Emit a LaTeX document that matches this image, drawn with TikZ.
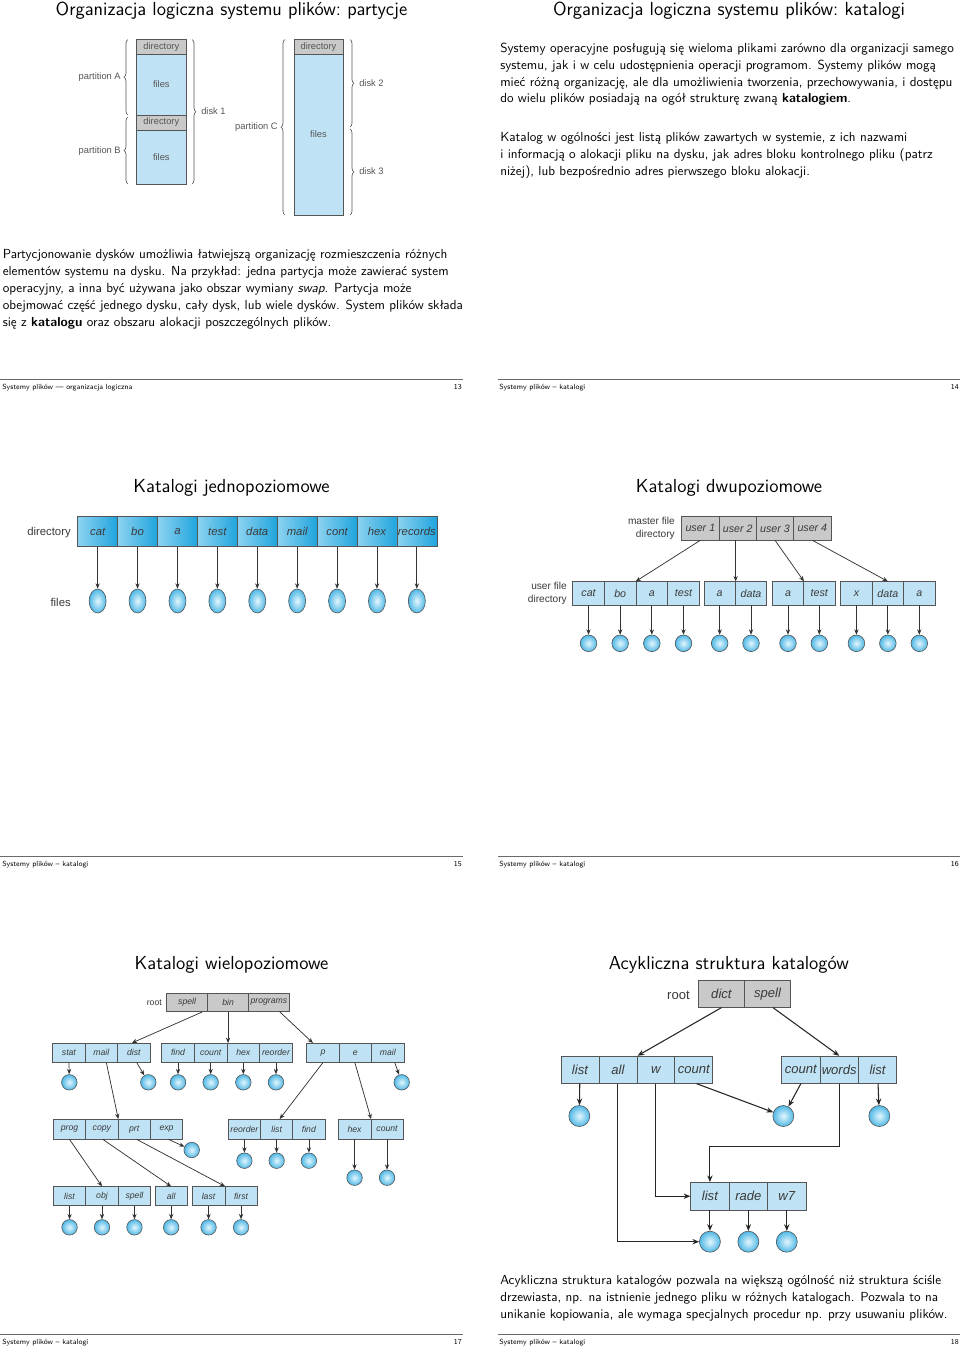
\documentclass[tikz,border=0pt]{standalone}
\usepackage{fontspec}
\newfontfamily\dfont{Liberation Sans}
\usetikzlibrary{arrows.meta,decorations.pathreplacing,calc,shapes.geometric}
\definecolor{cellblue}{HTML}{BFE3F5}
\definecolor{cellgray}{HTML}{C9C9C9}
\definecolor{edge}{HTML}{555555}
\definecolor{labgray}{HTML}{3A3A3A}
\definecolor{ballin}{HTML}{E4F6FD}
\definecolor{ballout}{HTML}{4FB8E6}
\definecolor{rulegray}{HTML}{6A6A6A}
\definecolor{gleft}{HTML}{8ED3F0}
\definecolor{gmid}{HTML}{EAF8FD}
\definecolor{gright}{HTML}{1FA4DE}
\newdimen\px \px=0.75pt
\begin{document}
\begin{tikzpicture}[x=0.75pt,y=-0.75pt,
 body/.style={anchor=base west,inner sep=0pt,font=\sffamily\fontsize{9.85}{12.75}\selectfont},
 ftitle/.style={anchor=base,inner sep=0pt,font=\sffamily\frenchspacing\fontsize{14.15}{16}\selectfont},
 foot/.style={inner sep=0pt,font=\sffamily\fontsize{5.6}{7}\selectfont},
 footrule/.style={draw=rulegray,line width=0.9pt},
 cbase/.style={draw=edge,line width=0.45pt,inner sep=0pt,text=labgray},
 cellb/.style={cbase,fill=cellblue},
 cellg/.style={cbase,fill=cellgray},
 wd/.style={minimum width=#1\px},
 ht/.style={minimum height=#1\px},
 ball/.style={circle,draw=edge,line width=0.45pt,inner color=ballin,outer color=ballout,inner sep=0pt,minimum size=#1\px},
 arr/.style={draw=black!80,line width=0.55pt,-{Stealth[length=4pt,width=3.2pt]}},
 arrb/.style={draw=black!85,line width=0.8pt,-{Stealth[length=5pt,width=4pt]}},
 brc/.style={draw=edge,line width=0.5pt,decorate,decoration={brace,amplitude=4\px}},
 s1lab/.style={inner sep=0pt,text=edge,font=\dfont\fontsize{7}{8}\selectfont},
 s3lab/.style={inner sep=0pt,text=labgray,font=\dfont\fontsize{8.5}{10}\selectfont},
 s4lab/.style={inner sep=0pt,text=labgray,align=right,font=\dfont\fontsize{7.6}{9.75}\selectfont},
 s5lab/.style={inner sep=0pt,text=labgray,font=\dfont\fontsize{6.5}{8}\selectfont},
 s6lab/.style={inner sep=0pt,text=labgray,font=\dfont\fontsize{9.8}{11}\selectfont},
 it3/.style={font=\dfont\itshape\fontsize{8.5}{10}\selectfont},
 it4/.style={font=\dfont\itshape\fontsize{8}{10}\selectfont},
 it5/.style={font=\dfont\itshape\fontsize{6.5}{8}\selectfont},
 it6/.style={font=\dfont\itshape\fontsize{9.8}{11}\selectfont}
]
\useasboundingbox (0,0) rectangle (960,1349);
\fill[white] (0,0) rectangle (960,1349);

% ================= titles =================
\node[ftitle] (ti1) at (231.5,15) {Organizacja logiczna systemu plików: partycje};
\node[ftitle] (ti2) at (729,15) {Organizacja logiczna systemu plików: katalogi};
\node[ftitle] (ti3) at (231.5,492.3) {Katalogi jednopoziomowe};
\node[ftitle] (ti4) at (729,492.3) {Katalogi dwupoziomowe};
\node[ftitle] (ti5) at (231.5,969.6) {Katalogi wielopoziomowe};
\node[ftitle] (ti6) at (729,969.6) {Acykliczna struktura katalogów};

% ================= footers =================
\foreach \r/\yy in {1/379.5,2/856.8,3/1334.1}{
  \draw[footrule] (0,\yy) -- (463,\yy);
  \draw[footrule] (498,\yy) -- (960,\yy);
}
\node[foot,anchor=base west] (fl1) at (2,389.5) {Systemy plików — organizacja logiczna};
\node[foot,anchor=base east] (fn1) at (462,389.5) {13};
\node[foot,anchor=base west] (fl2) at (499,389.5) {Systemy plików – katalogi};
\node[foot,anchor=base east] (fn2) at (959,389.5) {14};
\node[foot,anchor=base west] (fl3) at (2,866.8) {Systemy plików – katalogi};
\node[foot,anchor=base east] (fn3) at (462,866.8) {15};
\node[foot,anchor=base west] (fl4) at (499,866.8) {Systemy plików – katalogi};
\node[foot,anchor=base east] (fn4) at (959,866.8) {16};
\node[foot,anchor=base west] (fl5) at (2,1344.1) {Systemy plików – katalogi};
\node[foot,anchor=base east] (fn5) at (462,1344.1) {17};
\node[foot,anchor=base west] (fl6) at (499,1344.1) {Systemy plików – katalogi};
\node[foot,anchor=base east] (fn6) at (959,1344.1) {18};

% ================= slide 1 text =================
\node[body] (p1a) at (2.5,258.3) {Partycjonowanie dysków umożliwia łatwiejszą organizację rozmieszczenia różnych};
\node[body] (p1b) at (2.5,275.4) {elementów systemu na dysku. Na przykład: jedna partycja może zawierać system};
\node[body] (p1c) at (2.5,292.5) {operacyjny, a inna być używana jako obszar wymiany \textit{swap}. Partycja może};
\node[body] (p1d) at (2.5,309.6) {obejmować część jednego dysku, cały dysk, lub wiele dysków. System plików składa};
\node[body] (p1e) at (2.5,326.7) {się z \textbf{katalogu} oraz obszaru alokacji poszczególnych plików.};

% ================= slide 2 text =================
\node[body] (p2a) at (500,52.2) {Systemy operacyjne posługują się wieloma plikami zarówno dla organizacji samego};
\node[body] (p2b) at (500,69.1) {systemu, jak i w celu udostępnienia operacji programom. Systemy plików mogą};
\node[body] (p2c) at (500,86) {mieć różną organizację, ale dla umożliwienia tworzenia, przechowywania, i dostępu};
\node[body] (p2d) at (500,102.9) {do wielu plików posiadają na ogół strukturę zwaną \textbf{katalogiem}.};
\node[body] (p2e) at (500,141.7) {Katalog w ogólności jest listą plików zawartych w systemie, z ich nazwami};
\node[body] (p2f) at (500,158.6) {i informacją o alokacji pliku na dysku, jak adres bloku kontrolnego pliku (patrz};
\node[body] (p2g) at (500,175.5) {niżej), lub bezpośrednio adres pierwszego bloku alokacji.};

% ================= slide 6 text =================
\node[body] (p6a) at (500,1284) {Acykliczna struktura katalogów pozwala na większą ogólność niż struktura ściśle};
\node[body] (p6b) at (500,1301) {drzewiasta, np. na istnienie jednego pliku w różnych katalogach. Pozwala to na};
\node[body] (p6c) at (500,1318) {unikanie kopiowania, ale wymaga specjalnych procedur np. przy usuwaniu plików.};

% ================= slide 1 diagram =================
\node[cellg,s1lab,wd=49.3,ht=14.7] (dA) at (161.35,46.65) {directory};
\node[cellb,s1lab,wd=49.3,ht=61] (fA) at (161.35,84.5) {files};
\node[cellg,s1lab,wd=49.3,ht=15] (dB) at (161.35,122.5) {directory};
\node[cellb,s1lab,wd=49.3,ht=54] (fB) at (161.35,157) {files};
\node[cellg,s1lab,wd=49,ht=14.7] (dC) at (318.5,46.65) {directory};
\node[cellb,s1lab,wd=49,ht=161] (fC) at (318.5,134.5) {files};
\draw[brc] (128,115) -- (128,39.5);
\draw[brc] (128,184) -- (128,117);
\draw[brc] (192,39.5) -- (192,184);
\draw[brc] (285,215) -- (285,39.5);
\draw[brc] (350,39.5) -- (350,127);
\draw[brc] (350,129) -- (350,215);
\node[s1lab,anchor=east] (pA) at (121,77) {partition A};
\node[s1lab,anchor=east] (pB) at (121,151) {partition B};
\node[s1lab,anchor=west] (k1) at (201,111) {disk 1};
\node[s1lab,anchor=east] (pC) at (278,127) {partition C};
\node[s1lab,anchor=west] (k2) at (359,83) {disk 2};
\node[s1lab,anchor=west] (k3) at (359,171) {disk 3};

% ================= slide 3 diagram =================
\node[s3lab,anchor=east] (s3dir) at (71,533) {directory};
\node[s3lab,anchor=east] (s3fil) at (71,602) {files};
\foreach \t [count=\i] in {cat,bo,a,test,data,mail,cont,hex,records}{
  \node[cbase,it3,wd=39.9,ht=30,left color=gleft,middle color=gmid,right color=gright] (s3c\i) at ({77.7+39.9*(\i-0.5)},531.7) {\t};
  \node[ellipse,draw=edge,line width=0.45pt,inner color=ballin,outer color=ballout,minimum width=17\px,minimum height=24\px,inner sep=0pt] (s3f\i) at ({77.7+39.9*(\i-0.5)},601) {};
  \draw[arr] (s3c\i) -- (s3f\i);
}

% ================= slide 4 diagram =================
\node[s4lab,anchor=east] (mfd) at (675,528) {master file\\directory};
\node[s4lab,anchor=east] (ufd) at (567,593.5) {user file\\directory};
\foreach \t [count=\i] in {user 1,user 2,user 3,user 4}
  \node[cellg,it4,wd=37.33,ht=23.3] (m\i) at ({681.7+37.33*(\i-0.5)},528.35) {\t};
\foreach \t [count=\i] in {cat,bo,a,test}{
  \node[cellb,it4,wd=31.65,ht=23.3] (ua\i) at ({572.7+31.65*(\i-0.5)},593.35) {\t};
  \node[ball=16.6] (fa\i) at ({572.7+31.65*(\i-0.5)},643.3) {};
  \draw[arr] (ua\i) -- (fa\i);
}
\foreach \t [count=\i] in {a,data}{
  \node[cellb,it4,wd=31.35,ht=23.3] (ub\i) at ({704+31.35*(\i-0.5)},593.35) {\t};
  \node[ball=16.6] (fb\i) at ({704+31.35*(\i-0.5)},643.3) {};
  \draw[arr] (ub\i) -- (fb\i);
}
\foreach \t [count=\i] in {a,test}{
  \node[cellb,it4,wd=31.35,ht=23.3] (uc\i) at ({772.3+31.35*(\i-0.5)},593.35) {\t};
  \node[ball=16.6] (fc\i) at ({772.3+31.35*(\i-0.5)},643.3) {};
  \draw[arr] (uc\i) -- (fc\i);
}
\foreach \t [count=\i] in {x,data,a}{
  \node[cellb,it4,wd=31.43,ht=23.3] (ud\i) at ({840.7+31.43*(\i-0.5)},593.35) {\t};
  \node[ball=16.6] (fd\i) at ({840.7+31.43*(\i-0.5)},643.3) {};
  \draw[arr] (ud\i) -- (fd\i);
}
\draw[arr] (m1.south) -- (ua3.north west);
\draw[arr] (ub1.north east |- m2.south) -- (ub1.north east);
\draw[arr] (m3.south) -- (uc1.north east);
\draw[arr] (m4.south) -- (ud2.north);

% ================= slide 5 diagram =================
\node[s5lab,anchor=east] (rootA) at (162,1003) {root};
\foreach \t [count=\i] in {spell,bin,programs}
  \node[cellg,it5,wd=40.9,ht=18.4] (r\i) at ({166.7+40.9*(\i-0.5)},1002.5) {\t};
\foreach \t [count=\i] in {stat,mail,dist}
  \node[cellb,it5,wd=32.43,ht=19] (a\i) at ({52.7+32.43*(\i-0.5)},1052.8) {\t};
\foreach \t [count=\i] in {find,count,hex,reorder}{
  \node[cellb,it5,wd=32.65,ht=19] (b\i) at ({161.7+32.65*(\i-0.5)},1052.8) {\t};
  \node[ball=15.5] (fb5\i) at ({161.7+32.65*(\i-0.5)},1082.3) {};
  \draw[arr] (b\i) -- (fb5\i);
}
\foreach \t [count=\i] in {p,e,mail}
  \node[cellb,it5,wd=32.43,ht=19] (c\i) at ({306.7+32.43*(\i-0.5)},1052.8) {\t};
\foreach \t [count=\i] in {prog,copy,prt,exp}
  \node[cellb,it5,wd=32.35,ht=19.7] (d\i) at ({53.3+32.35*(\i-0.5)},1129.2) {\t};
\foreach \t [count=\i] in {reorder,list,find}{
  \node[cellb,it5,wd=32.23,ht=19.7] (e\i) at ({228.3+32.23*(\i-0.5)},1129.2) {\t};
  \node[ball=15.5] (fe5\i) at ({228.3+32.23*(\i-0.5)},1160.7) {};
  \draw[arr] (e\i) -- (fe5\i);
}
\foreach \t [count=\i] in {hex,count}{
  \node[cellb,it5,wd=32.5,ht=19.7] (f\i) at ({338.3+32.5*(\i-0.5)},1129.2) {\t};
  \node[ball=15.5] (ff5\i) at ({338.3+32.5*(\i-0.5)},1177.7) {};
  \draw[arr] (f\i) -- (ff5\i);
}
\foreach \t [count=\i] in {list,obj,spell}{
  \node[cellb,it5,wd=32.47,ht=19] (g\i) at ({53.3+32.47*(\i-0.5)},1196.2) {\t};
  \node[ball=15.5] (fg5\i) at ({53.3+32.47*(\i-0.5)},1227.3) {};
  \draw[arr] (g\i) -- (fg5\i);
}
\node[cellb,it5,wd=32.3,ht=19] (h1) at (171.15,1196.2) {all};
\node[ball=15.5] (fh51) at (171.15,1227.3) {};
\draw[arr] (h1) -- (fh51);
\foreach \t [count=\i] in {last,first}{
  \node[cellb,it5,wd=32.5,ht=19] (i\i) at ({192.3+32.5*(\i-0.5)},1196.2) {\t};
  \node[ball=15.5] (fi5\i) at ({192.3+32.5*(\i-0.5)},1227.3) {};
  \draw[arr] (i\i) -- (fi5\i);
}
\node[ball=15.5] (fa51) at (69.3,1082.3) {};
\node[ball=15.5] (fa53) at (148.3,1082.3) {};
\node[ball=15.5] (fc53) at (401.7,1082.3) {};
\node[ball=15.5] (fd54) at (191.7,1150) {};
\draw[arr] (a1) -- (fa51);
\draw[arr] ($(a3.south)+(3,0)$) -- (fa53);
\draw[arr] ($(c3.south)+(7,0)$) -- (fc53);
\draw[arr] ($(d4.south)+(2,0)$) -- (fd54);
\draw[arr] ($(r1.south)+(15,0)$) -- ($(a3.north)+(-2,0)$);
\draw[arr] (r2.south) -- (r2.south |- b2.north);
\draw[arr] ($(r3.south)+(11,0)$) -- ($(c1.north)+(-10,0)$);
\draw[arr] ($(a2.south)+(5,0)$) -- (d2.north east);
\draw[arr] (c1.south) -- ($(e2.north)+(3,0)$);
\draw[arr] ($(c2.south)+(-0.5,0)$) -- (f1.north east);
\draw[arr] (d1.south) -- (g2.north);
\draw[arr] ($(d2.south)+(1,0)$) -- (h1.north);
\draw[arr] ($(d3.south)+(2.5,0)$) -- (i1.north east);

% ================= slide 6 diagram =================
\node[s6lab,anchor=east] (rootB) at (690,995) {root};
\foreach \t [count=\i] in {dict,spell}
  \node[cellg,it6,wd=46.2,ht=27.3] (s\i) at ({698.3+46.2*(\i-0.5)},993.7) {\t};
\foreach \t [count=\i] in {list,all,w,count}
  \node[cellb,it6,wd=37.93,ht=27.3] (l\i) at ({561+37.93*(\i-0.5)},1069.7) {\t};
\foreach \t [count=\i] in {count,words,list}
  \node[cellb,it6,wd=38.33,ht=27.3] (n\i) at ({781.7+38.33*(\i-0.5)},1069.7) {\t};
\foreach \t [count=\i] in {list,rade,w7}{
  \node[cellb,it6,wd=38.43,ht=27.7] (q\i) at ({690.7+38.43*(\i-0.5)},1196.2) {\t};
  \node[ball=21] (fq\i) at ({690.7+38.43*(\i-0.5)},1241.7) {};
  \draw[arrb] (q\i) -- (fq\i);
}
\node[ball=21] (fl61) at (579.3,1116) {};
\node[ball=21] (fsh) at (783.3,1116) {};
\node[ball=21] (fn63) at (879.3,1116) {};
\draw[arrb] (s1.south) -- ($(l3.north west)+(1,0)$);
\draw[arrb] ($(s2.south)+(5.4,0)$) -- (n2.north);
\draw[arrb] (l1) -- (fl61);
\draw[arrb] (n3) -- (fn63);
\draw[arrb] ($(l4.south)+(2.8,0)$) -- (fsh);
\draw[arrb] (n1.south) -- (fsh);
\draw[arrb] (n2.south) -- ++(0,62.7) -| (q1.north);
\draw[arrb] (l3.south) |- (q1.west);
\draw[arrb] (l2.south) |- (fq1.west);
\end{tikzpicture}
\end{document}
